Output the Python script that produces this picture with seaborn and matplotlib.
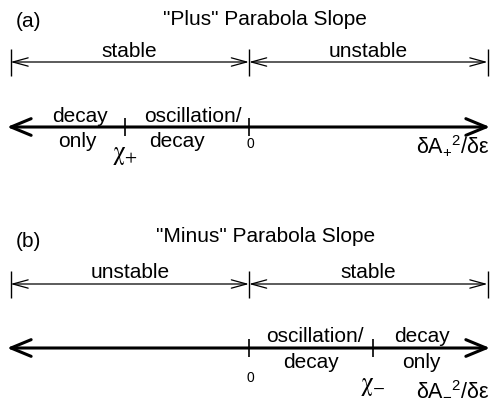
import matplotlib
matplotlib.use("Agg")
import matplotlib.pyplot as plt
import seaborn as sns

# slope axis of the schematic: 0 in the middle, ends at -1 / +1
ends = [-1.0, 1.0]
zero = 0.0
chi_plus = -0.52
chi_minus = 0.52

panel_tags = ["(a)", "(b)"]
titles = ['"Plus" Parabola Slope', '"Minus" Parabola Slope']
stab_labels = [["stable", "unstable"], ["unstable", "stable"]]
mode_top = [["decay", "oscillation/"], ["oscillation/", "decay"]]
mode_bot = [["only", "decay"], ["decay", "only"]]
chi_vals = [chi_plus, chi_minus]
chi_labels = [r"$\mathrm{\chi}_{+}$", r"$\mathrm{\chi}_{-}$"]
axis_labels = [r"$\delta A_{+}{}^{2}/\delta\varepsilon$",
               r"$\delta A_{-}{}^{2}/\delta\varepsilon$"]

sns.set_theme(style="white")
plt.rcParams["font.family"] = ["Liberation Sans", "DejaVu Sans"]
plt.rcParams["text.color"] = "black"
plt.rcParams["mathtext.fontset"] = "custom"
plt.rcParams["mathtext.rm"] = "Liberation Sans"
plt.rcParams["mathtext.it"] = "Liberation Sans"
plt.rcParams["mathtext.bf"] = "Liberation Sans:bold"

# px -> axis units (0 sits at column 249)
def X(px):
    return (px - 249) / 238.5

# vertical layout of each panel, in pixel rows
lay = [
    dict(tag=27, title=25, br=62, br_lab=57, ax=127, top=122, bot=147,
         zero=148, chi=159, xl=153, tit_x=453, xl_x=453),
    dict(tag=247, title=242, br=284, br_lab=278, ax=348, top=342, bot=368,
         zero=382, chi=390, xl=396, tit_x=266, xl_x=453),
]
lay[0]["tit_x"] = 265
# small nudges (px) of the mode words off the region middles
nudge_top = [[12, 6], [4, -8]]
nudge_bot = [[10, -10], [0, -9]]

fig = plt.figure(figsize=(4.92, 4.09), dpi=100)
ax = fig.add_axes([0, 0, 1, 1])
ax.set_xlim(X(0), X(492))
ax.set_ylim(409, 0)
ax.axis("off")

fs = 15
for i in range(2):
    L = lay[i]
    ax.text(X(16), L["tag"], panel_tags[i], fontsize=fs, ha="left", va="baseline")
    ax.text(X(L["tit_x"]), L["title"], titles[i], fontsize=fs, ha="center", va="baseline")

    # stable / unstable brackets
    bounds = [ends[0], zero, ends[1]]
    for k in range(2):
        ax.annotate("", xy=(bounds[k + 1], L["br"]), xytext=(bounds[k], L["br"]),
                    arrowprops=dict(arrowstyle="<->,head_length=1.1,head_width=0.3",
                                    lw=0.9, color="black", shrinkA=0, shrinkB=0,
                                    mutation_scale=10))
        ax.text((bounds[k] + bounds[k + 1]) / 2, L["br_lab"], stab_labels[i][k],
                fontsize=fs, ha="center", va="baseline")
    ax.vlines(bounds, L["br"] - 13, L["br"] + 14, color="black", lw=1.0)

    # main slope axis
    ax.annotate("", xy=(X(490), L["ax"]), xytext=(X(7), L["ax"]),
                arrowprops=dict(arrowstyle="<->,head_length=1.45,head_width=0.6",
                                lw=2.2, color="black", shrinkA=0, shrinkB=0,
                                mutation_scale=10))
    ax.vlines([chi_vals[i], zero], L["ax"] - 9, L["ax"] + 9, color="black", lw=1.2)

    # decay / oscillation regions
    if i == 0:
        regs = [(ends[0], chi_vals[i]), (chi_vals[i], zero)]
    else:
        regs = [(zero, chi_vals[i]), (chi_vals[i], ends[1])]
    for k, (a, b) in enumerate(regs):
        mid = (a + b) / 2
        ax.text(mid + nudge_top[i][k] / 238.5, L["top"], mode_top[i][k],
                fontsize=fs, ha="center", va="baseline")
        ax.text(mid + nudge_bot[i][k] / 238.5, L["bot"], mode_bot[i][k],
                fontsize=fs, ha="center", va="baseline")

    ax.text(zero + 1.5 / 238.5, L["zero"], "0", fontsize=10, ha="center", va="baseline")
    ax.text(chi_vals[i], L["chi"], chi_labels[i], fontsize=18, ha="center",
            va="baseline", math_fontfamily="stix")
    ax.text(X(L["xl_x"]), L["xl"], axis_labels[i], fontsize=15.5, ha="center", va="baseline")

fig.savefig("out.png", dpi=100)
